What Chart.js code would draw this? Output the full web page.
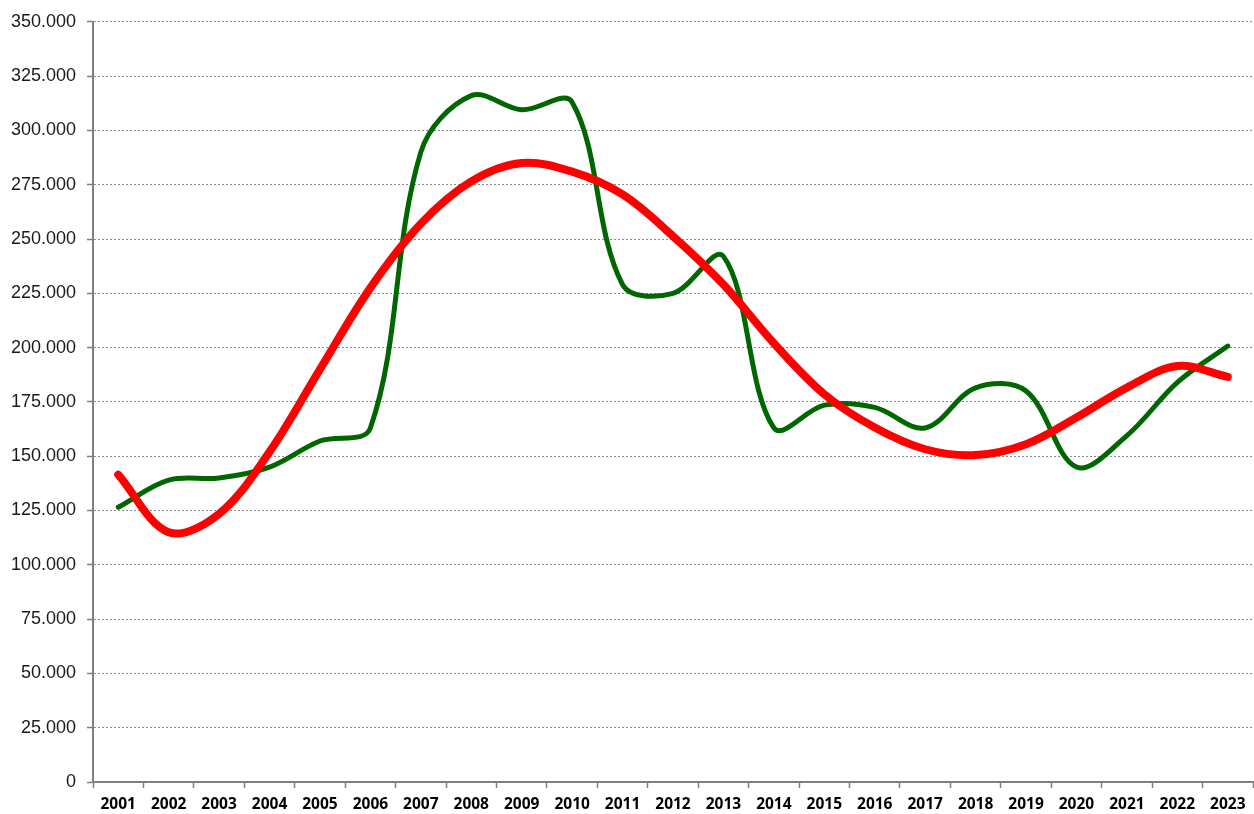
<!DOCTYPE html>
<html>
<head>
<meta charset="utf-8">
<title>Chart</title>
<script src="https://cdn.jsdelivr.net/npm/chart.js@4.4.1/dist/chart.umd.min.js"></script>
<style>
    html, body { margin: 0; padding: 0; background: #ffffff; }
    #wrap { width: 1254px; height: 814px; }
</style>
</head>
<body>
<div id="wrap"><canvas id="myChart" width="1254" height="814"></canvas></div>
<script>
// Kategori (tahun)
const years = ['2001', '2002', '2003', '2004', '2005', '2006', '2007', '2008', '2009', '2010', '2011', '2012',
    '2013', '2014', '2015', '2016', '2017', '2018', '2019', '2020', '2021', '2022', '2023'];

// Nilai seri hijau (data)
const greenValues = [126500, 139000, 140000, 145000, 157000, 163000, 290000, 316000, 309500, 313000, 229000, 225000,
    242000, 163000, 173500, 172500, 163000, 181500, 180000, 145000, 159500, 184000, 200700];

// Nilai seri merah (garis tren)
const redValues = [141500, 115000, 123500, 152000, 190000, 227500, 257000, 276500, 285000, 281000, 270500, 251300,
    229000, 202000, 178500, 163200, 153200, 150500, 155500, 167800, 181600, 191500, 186500];

// Label sumbu Y
const yTicks = [0, 25000, 50000, 75000, 100000, 125000, 150000, 175000, 200000, 225000, 250000, 275000, 300000, 325000, 350000];

function formatThousand(v) {
    return String(v).replace(/\B(?=(\d{3})+(?!\d))/g, '.');
}

const ctx = document.getElementById('myChart').getContext('2d');
const myChart = new Chart(ctx, {
    type: 'line',
    data: {
        labels: years,
        datasets: [{
            label: 'Data',
            data: greenValues,
            borderColor: '#006600',
            borderWidth: 5,
            pointRadius: 0,
            tension: 0.35,
            borderCapStyle: 'round',
            fill: false,
            order: 2
        }, {
            label: 'Tren',
            data: redValues,
            borderColor: '#ff0000',
            borderWidth: 8,
            pointRadius: 0,
            tension: 0.35,
            borderCapStyle: 'round',
            fill: false,
            order: 1
        }]
    },
    options: {
        responsive: false,
        animation: false,
        layout: { padding: { top: 20, right: 1, left: 0, bottom: 0 } },
        plugins: {
            legend: { display: false },
            tooltip: { enabled: false }
        },
        scales: {
            x: {
                offset: true,
                grid: {
                    offset: true,
                    drawOnChartArea: false,
                    drawTicks: true,
                    tickLength: 6,
                    tickColor: '#7f7f7f',
                    tickWidth: 1.5
                },
                border: { color: '#7f7f7f', width: 2 },
                ticks: {
                    color: '#000000',
                    font: { family: 'Open Sans', size: 15.5, weight: 'bold' },
                    padding: 7,
                    maxRotation: 0,
                    autoSkip: false
                },
                afterFit: (scale) => { scale.height = 32; }
            },
            y: {
                min: 0,
                max: 350000,
                afterBuildTicks: (scale) => {
                    scale.ticks = yTicks.map(v => ({ value: v }));
                },
                grid: {
                    color: '#8c8c8c',
                    lineWidth: 1,
                    drawTicks: true,
                    tickLength: 6,
                    tickColor: '#7f7f7f',
                    tickWidth: 1.5
                },
                border: { color: '#7f7f7f', width: 2, dash: [2, 2] },
                ticks: {
                    color: '#1a1a1a',
                    font: { family: 'Liberation Sans', size: 18 },
                    padding: 11,
                    callback: (value) => formatThousand(value)
                },
                afterFit: (scale) => { scale.width = 93; }
            }
        }
    },
    plugins: [{
        id: 'whiteBg',
        beforeDraw: (chart) => {
            const c = chart.ctx;
            c.save();
            c.fillStyle = '#ffffff';
            c.fillRect(0, 0, chart.width, chart.height);
            c.restore();
        }
    }]
});
</script>
</body>
</html>
